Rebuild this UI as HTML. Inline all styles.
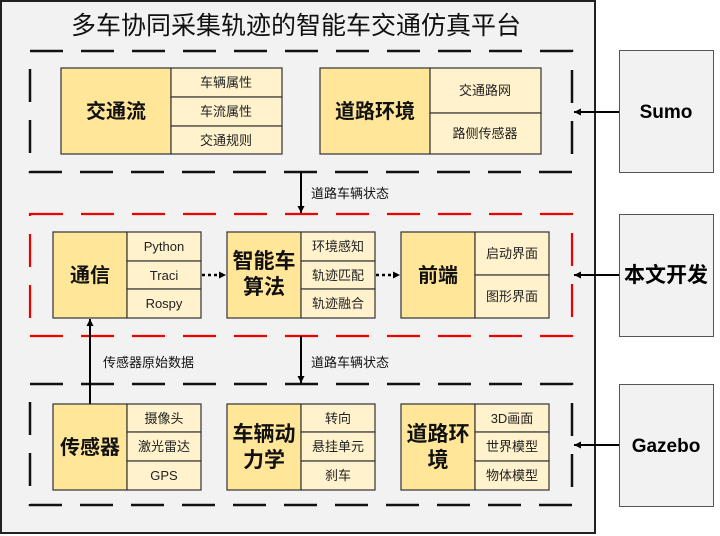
<!DOCTYPE html>
<html><head><meta charset="utf-8"><style>
html,body{margin:0;padding:0;background:#fff;}
svg{display:block;}
text{font-family:"Liberation Sans","Noto Sans CJK SC",sans-serif;}
</style></head><body>
<svg width="720" height="536" viewBox="0 0 720 536" xmlns="http://www.w3.org/2000/svg">
<defs>
<marker id="ah" markerWidth="8" markerHeight="8" refX="7" refY="4" orient="auto" markerUnits="userSpaceOnUse">
<path d="M0,0.5 L7,4 L0,7.5 Z" fill="#000"/>
</marker>
</defs>
<rect x="0" y="0" width="720" height="536" fill="#fff"/>
<rect x="1" y="1" width="594" height="532" fill="#f2f2f2" stroke="#222" stroke-width="2"/>
<text x="296" y="34" font-size="25" text-anchor="middle" fill="#111">多车协同采集轨迹的智能车交通仿真平台</text>

<g fill="#f2f2f2" stroke="#555" stroke-width="1">
<rect x="619.5" y="50.5" width="94" height="122"/>
<rect x="619.5" y="214.5" width="94" height="122"/>
<rect x="619.5" y="384.5" width="94" height="122"/>
</g>
<text x="666" y="118" font-size="19" font-weight="bold" text-anchor="middle">Sumo</text>
<text x="666" y="282" font-size="21" font-weight="bold" text-anchor="middle">本文开发</text>
<text x="666" y="452" font-size="19" font-weight="bold" text-anchor="middle">Gazebo</text>

<g fill="none" stroke-width="2.5" stroke-dasharray="33 18">
<rect x="30" y="51" width="542" height="121" stroke="#111"/>
<rect x="30" y="214" width="542" height="122" stroke="#e00" stroke-width="2.2"/>
<rect x="30" y="384" width="542" height="121" stroke="#111"/>
</g>

<g stroke="#000" stroke-width="2" fill="none">
<line x1="619" y1="112" x2="574" y2="112" marker-end="url(#ah)"/>
<line x1="619" y1="275" x2="574" y2="275" marker-end="url(#ah)"/>
<line x1="619" y1="445" x2="574" y2="445" marker-end="url(#ah)"/>
<line x1="301" y1="172" x2="301" y2="213" marker-end="url(#ah)"/>
<line x1="301" y1="336" x2="301" y2="383" marker-end="url(#ah)"/>
<line x1="90" y1="404" x2="90" y2="319" marker-end="url(#ah)"/>
<line x1="202" y1="275" x2="226" y2="275" stroke-dasharray="3 3" stroke-width="2.5" marker-end="url(#ah)"/>
<line x1="376" y1="275" x2="400" y2="275" stroke-dasharray="3 3" stroke-width="2.5" marker-end="url(#ah)"/>
</g>
<g font-size="13" fill="#111">
<text x="311" y="198">道路车辆状态</text>
<text x="311" y="367">道路车辆状态</text>
<text x="103" y="367">传感器原始数据</text>
</g>

<g stroke="#333" stroke-width="1.2">
<rect x="61" y="68" width="110" height="86" fill="#ffe699"/>
<rect x="171" y="68" width="111" height="29" fill="#fff2cc"/>
<rect x="171" y="97" width="111" height="29" fill="#fff2cc"/>
<rect x="171" y="126" width="111" height="28" fill="#fff2cc"/>
<rect x="320" y="68" width="110" height="86" fill="#ffe699"/>
<rect x="430" y="68" width="111" height="45" fill="#fff2cc"/>
<rect x="430" y="113" width="111" height="41" fill="#fff2cc"/>
<rect x="53" y="232" width="74" height="86" fill="#ffe699"/>
<rect x="127" y="232" width="74" height="29" fill="#fff2cc"/>
<rect x="127" y="261" width="74" height="28" fill="#fff2cc"/>
<rect x="127" y="289" width="74" height="29" fill="#fff2cc"/>
<rect x="227" y="232" width="74" height="86" fill="#ffe699"/>
<rect x="301" y="232" width="74" height="29" fill="#fff2cc"/>
<rect x="301" y="261" width="74" height="28" fill="#fff2cc"/>
<rect x="301" y="289" width="74" height="29" fill="#fff2cc"/>
<rect x="401" y="232" width="74" height="86" fill="#ffe699"/>
<rect x="475" y="232" width="74" height="43" fill="#fff2cc"/>
<rect x="475" y="275" width="74" height="43" fill="#fff2cc"/>
<rect x="53" y="404" width="74" height="86" fill="#ffe699"/>
<rect x="127" y="404" width="74" height="28" fill="#fff2cc"/>
<rect x="127" y="432" width="74" height="29" fill="#fff2cc"/>
<rect x="127" y="461" width="74" height="29" fill="#fff2cc"/>
<rect x="227" y="404" width="74" height="86" fill="#ffe699"/>
<rect x="301" y="404" width="74" height="28" fill="#fff2cc"/>
<rect x="301" y="432" width="74" height="29" fill="#fff2cc"/>
<rect x="301" y="461" width="74" height="29" fill="#fff2cc"/>
<rect x="401" y="404" width="74" height="86" fill="#ffe699"/>
<rect x="475" y="404" width="74" height="28" fill="#fff2cc"/>
<rect x="475" y="432" width="74" height="29" fill="#fff2cc"/>
<rect x="475" y="461" width="74" height="29" fill="#fff2cc"/>
</g>

<g font-size="20" font-weight="bold" text-anchor="middle" fill="#111">
<text x="116" y="118">交通流</text>
<text x="375" y="118">道路环境</text>
<text x="90" y="282">通信</text>
<text x="264" y="268" font-size="21">智能车</text>
<text x="264" y="294" font-size="21">算法</text>
<text x="438" y="282">前端</text>
<text x="90" y="454">传感器</text>
<text x="264" y="441" font-size="21">车辆动</text>
<text x="264" y="467" font-size="21">力学</text>
<text x="438" y="441" font-size="21">道路环</text>
<text x="438" y="467" font-size="21">境</text>
</g>

<g font-size="13" text-anchor="middle" fill="#222">
<text x="226" y="87">车辆属性</text>
<text x="226" y="116">车流属性</text>
<text x="226" y="145">交通规则</text>
<text x="485" y="95">交通路网</text>
<text x="485" y="138">路侧传感器</text>
<text x="164" y="251">Python</text>
<text x="164" y="280">Traci</text>
<text x="164" y="308">Rospy</text>
<text x="338" y="251">环境感知</text>
<text x="338" y="280">轨迹匹配</text>
<text x="338" y="308">轨迹融合</text>
<text x="512" y="258">启动界面</text>
<text x="512" y="301">图形界面</text>
<text x="164" y="423">摄像头</text>
<text x="164" y="451">激光雷达</text>
<text x="164" y="480">GPS</text>
<text x="338" y="423">转向</text>
<text x="338" y="451">悬挂单元</text>
<text x="338" y="480">刹车</text>
<text x="512" y="423">3D画面</text>
<text x="512" y="451">世界模型</text>
<text x="512" y="480">物体模型</text>
</g>
</svg>
</body></html>
